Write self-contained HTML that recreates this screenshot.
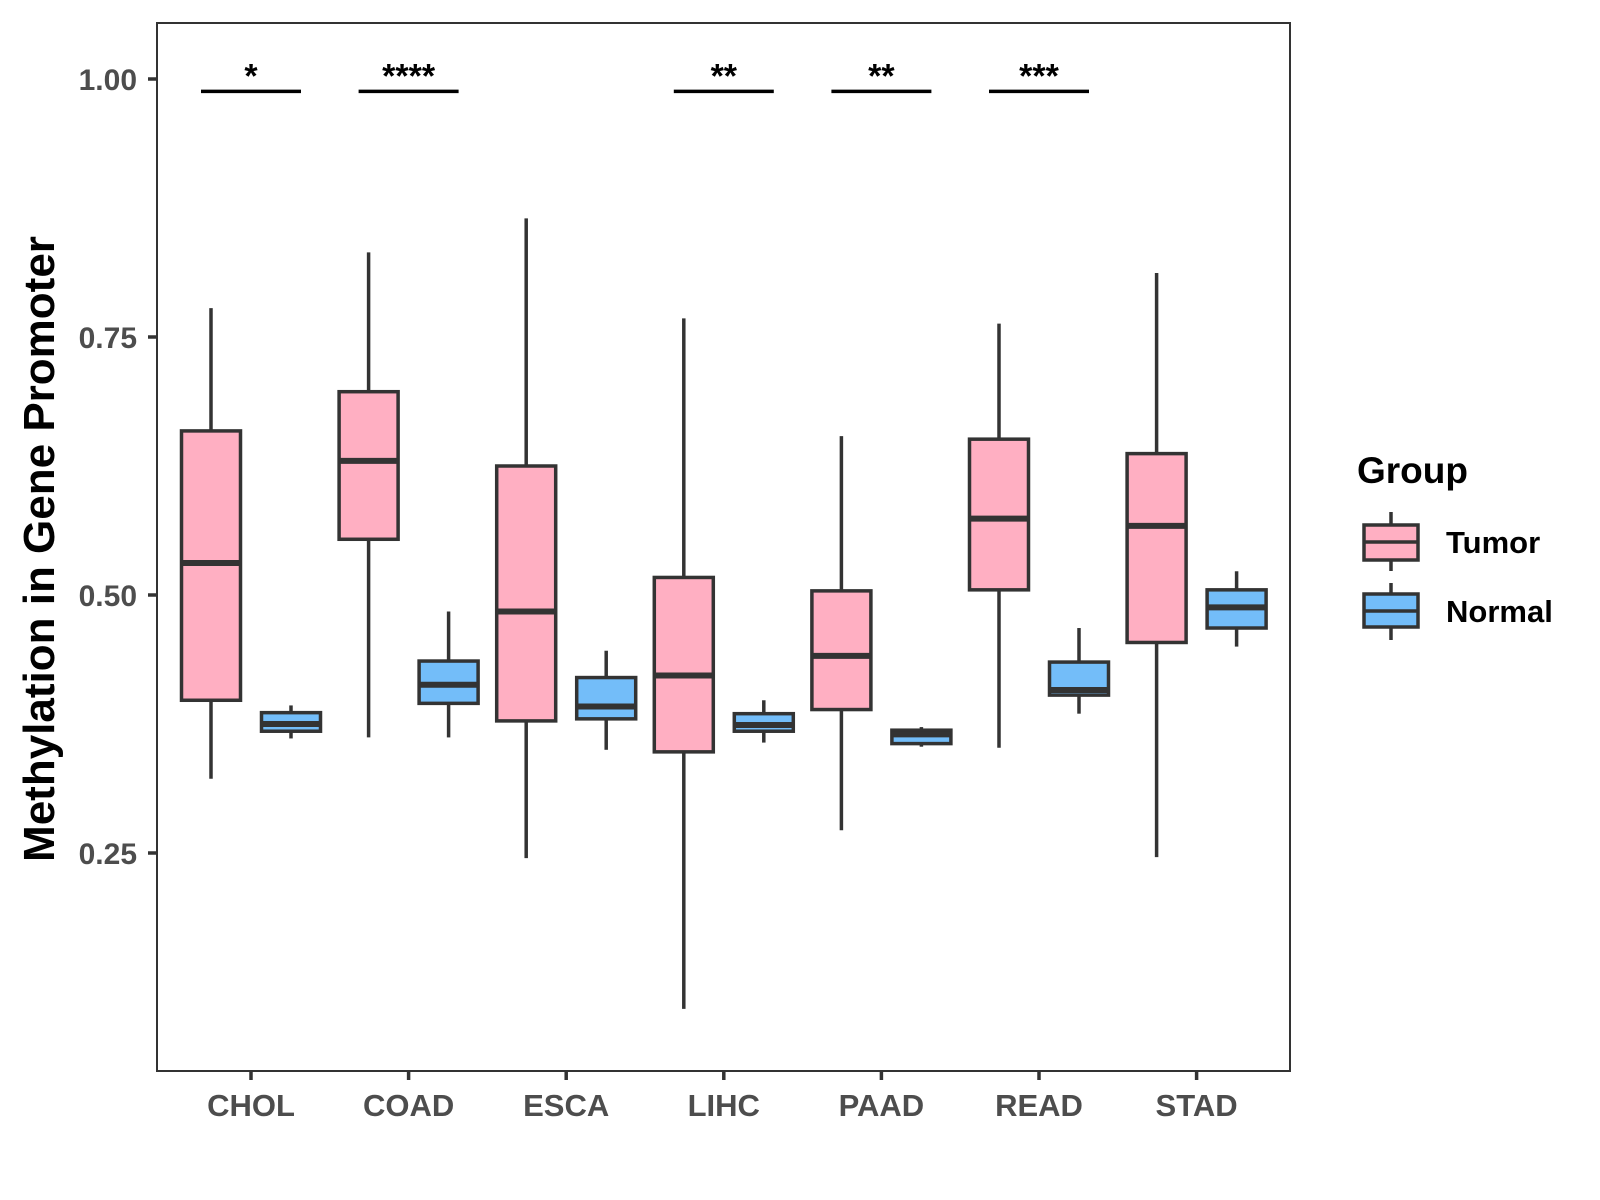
<!DOCTYPE html>
<html><head><meta charset="utf-8"><style>
html,body{margin:0;padding:0;background:#fff;}
svg{display:block;font-family:"Liberation Sans",Arial,sans-serif;}
</style></head><body>
<svg id="chart" width="1600" height="1200" xmlns="http://www.w3.org/2000/svg">
<rect x="157" y="23" width="1133" height="1048" fill="#fff" stroke="#333" stroke-width="2"/>
<text transform="translate(54,549) rotate(-90)" text-anchor="middle" font-size="44" font-weight="bold" fill="#000">Methylation in Gene Promoter</text>
<g>
<text x="1357" y="483" font-size="37" font-weight="bold" fill="#000">Group</text>
<g>
<line x1="1391" y1="512" x2="1391" y2="571" stroke="#333" stroke-width="3.5"/>
<rect x="1364" y="525" width="54" height="35" fill="#ffafc2" stroke="#333" stroke-width="3.5"/>
<line x1="1364" y1="542" x2="1418" y2="542" stroke="#333" stroke-width="3.5"/>
<text x="1446" y="553" font-size="31" font-weight="bold" fill="#000">Tumor</text>
</g>
<g>
<line x1="1391" y1="583" x2="1391" y2="640" stroke="#333" stroke-width="3.5"/>
<rect x="1364" y="594" width="54" height="33" fill="#73bdf9" stroke="#333" stroke-width="3.5"/>
<line x1="1364" y1="611" x2="1418" y2="611" stroke="#333" stroke-width="3.5"/>
<text x="1446" y="622" font-size="31" font-weight="bold" fill="#000">Normal</text>
</g>
</g>
</svg>
<script>
const categories = ["CHOL","COAD","ESCA","LIHC","PAAD","READ","STAD"];
// [lowerWhisker, Q1, median, Q3, upperWhisker]
const tumorStats = [
 [0.322,0.398,0.531,0.659,0.778],
 [0.362,0.554,0.630,0.697,0.832],
 [0.245,0.378,0.484,0.625,0.865],
 [0.099,0.348,0.422,0.517,0.768],
 [0.272,0.389,0.441,0.504,0.654],
 [0.352,0.505,0.574,0.651,0.763],
 [0.246,0.454,0.567,0.637,0.812]
];
const normalStats = [
 [0.361,0.368,0.375,0.386,0.393],
 [0.362,0.395,0.413,0.436,0.484],
 [0.350,0.380,0.392,0.420,0.446],
 [0.357,0.368,0.374,0.385,0.398],
 [0.353,0.356,0.365,0.369,0.372],
 [0.385,0.403,0.408,0.435,0.468],
 [0.450,0.468,0.488,0.505,0.523]
];
const sigLabels = ["*","****","","**","**","***",""];
const sigLevel = 0.988;
const yTicks = [0.25,0.50,0.75,1.00];
const yTickLabels = ["0.25","0.50","0.75","1.00"];

const NS="http://www.w3.org/2000/svg";
const svg=document.getElementById('chart');
function yS(v){return 79+(1-v)*1032;}
function xS(i){return 251+i*157.6;}
function mk(tag,attrs,parent){const e=document.createElementNS(NS,tag);for(const k in attrs)e.setAttribute(k,attrs[k]);(parent||svg).appendChild(e);return e;}

yTicks.forEach((t,i)=>{
  const g=mk('g',{});
  
  
  mk('line',{x1:148,x2:157,y1:yS(t),y2:yS(t),stroke:'#333','stroke-width':3.5},g);
  const tx=mk('text',{x:137,y:yS(t)+11,'text-anchor':'end','font-size':30,'font-weight':'bold',fill:'#4d4d4d'},g);
  tx.textContent=yTickLabels[i];
});
categories.forEach((c,i)=>{
  const g=mk('g',{});
  
  
  mk('line',{x1:xS(i),x2:xS(i),y1:1071,y2:1080,stroke:'#333','stroke-width':3.5},g);
  const tx=mk('text',{x:xS(i),y:1116,'text-anchor':'middle','font-size':31,'font-weight':'bold',fill:'#4d4d4d'},g);
  tx.textContent=c;
});
function drawBox(s,cx,fill,name){
  const g=mk('g',{});
  
  
  const hw=29.5;
  mk('line',{x1:cx,x2:cx,y1:yS(s[4]),y2:yS(s[3]),stroke:'#333','stroke-width':3.5},g);
  mk('line',{x1:cx,x2:cx,y1:yS(s[1]),y2:yS(s[0]),stroke:'#333','stroke-width':3.5},g);
  mk('rect',{x:cx-hw,y:yS(s[3]),width:2*hw,height:Math.max(1,yS(s[1])-yS(s[3])),fill:fill,stroke:'#333','stroke-width':3.5},g);
  mk('line',{x1:cx-hw,x2:cx+hw,y1:yS(s[2]),y2:yS(s[2]),stroke:'#333','stroke-width':6},g);
}
categories.forEach((c,i)=>{
  drawBox(tumorStats[i],xS(i)-40,'#ffafc2','box-tumor-'+c.toLowerCase());
  drawBox(normalStats[i],xS(i)+40,'#73bdf9','box-normal-'+c.toLowerCase());
  if(sigLabels[i]){
    const g=mk('g',{});
    
    
    mk('line',{x1:xS(i)-50,x2:xS(i)+50,y1:yS(sigLevel),y2:yS(sigLevel),stroke:'#000','stroke-width':3.5},g);
    const t=mk('text',{x:xS(i),y:yS(sigLevel)-4,'text-anchor':'middle','font-size':34,'font-weight':'bold',fill:'#000'},g);
    t.textContent=sigLabels[i];
  }
});
</script>
</body></html>
